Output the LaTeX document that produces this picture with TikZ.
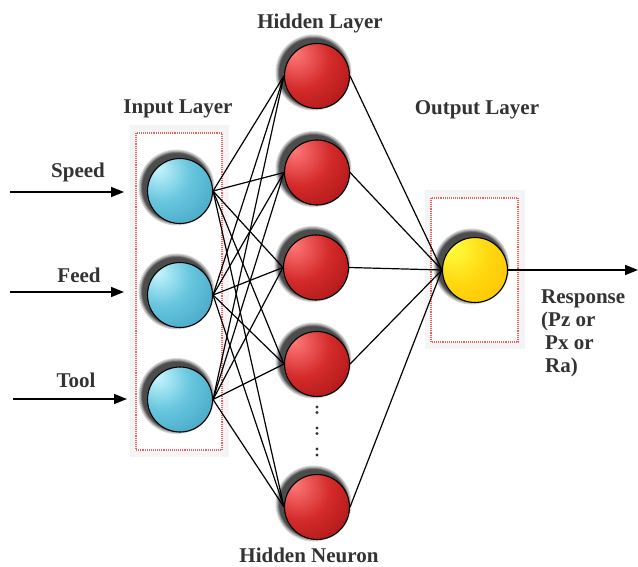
\documentclass[tikz,border=0pt]{standalone}
\usepackage{fontspec}
\setmainfont{Liberation Serif}
\usetikzlibrary{arrows.meta}

\definecolor{labelgray}{HTML}{333333}
\definecolor{cyanhi}{HTML}{C8F6FF}
\definecolor{cyanmid}{HTML}{68C6DE}
\definecolor{cyanlo}{HTML}{3C9EBE}
\definecolor{redhi}{HTML}{FF7A7A}
\definecolor{redmid}{HTML}{D42A2A}
\definecolor{redlo}{HTML}{A01212}
\definecolor{yelhi}{HTML}{FFFF40}
\definecolor{yelmid}{HTML}{FFD810}
\definecolor{yello}{HTML}{FFBE00}
\definecolor{boxred}{HTML}{F06060}

\pgfdeclareradialshading{cyanball}{\pgfpoint{-18bp}{18bp}}{%
  color(0bp)=(cyanhi); color(22bp)=(cyanmid); color(50bp)=(cyanlo); color(100bp)=(cyanlo)}
\pgfdeclareradialshading{redball}{\pgfpoint{-18bp}{18bp}}{%
  color(0bp)=(redhi); color(24bp)=(redmid); color(50bp)=(redlo); color(100bp)=(redlo)}
\pgfdeclareradialshading{yelball}{\pgfpoint{-18bp}{18bp}}{%
  color(0bp)=(yelhi); color(24bp)=(yelmid); color(50bp)=(yello); color(100bp)=(yello)}

\tikzset{
  neuron/.style={circle, draw=black, line width=1.1pt, minimum size=65pt, inner sep=0pt},
  inneuron/.style={neuron, shading=cyanball},
  hidneuron/.style={neuron, shading=redball},
  outneuron/.style={neuron, shading=yelball},
  lbl/.style={text=labelgray, font=\fontsize{21}{24}\selectfont\bfseries, inner sep=0pt},
  link/.style={line width=1.2pt, black},
  feedarrow/.style={line width=1.6pt, -{Triangle[length=13pt,width=10pt]}},
  layerframe/.style={draw=gray!9, line width=7pt},
  layerbox/.style={draw=boxred, densely dotted, line width=1.1pt},
  dot/.style={circle, fill=labelgray, inner sep=0pt, minimum size=3.4pt},
  softshade/.style={fill=black, fill opacity=0.16, draw=none}
}

\begin{document}
\begin{tikzpicture}[x=1pt, y=-1pt]
\useasboundingbox (0,0) rectangle (638,567);

% layer frames
\draw[layerframe] (133,129) rectangle (225,453);
\draw[layerbox] (136,133) rectangle (222,450);
\draw[layerframe] (428,194) rectangle (521,345);
\draw[layerbox] (431,198) rectangle (518,342);

% soft shadows cast up and to the left of every neuron
\foreach \cx/\cy in {180/191,180/295,180/399.5,317/76,317/172.5,316/267.5,317/364,317/507,475/270}
  \foreach \r in {38,37,36,35.5,35,34.5,34}
    \fill[softshade] (\cx-3.5,\cy-3.5) circle[radius=\r];

% input neurons
\node[inneuron] (i1) at (180,191) {};
\node[inneuron] (i2) at (180,295) {};
\node[inneuron] (i3) at (180,399.5) {};

% hidden neurons
\node[hidneuron] (h1) at (317,76) {};
\node[hidneuron] (h2) at (317,172.5) {};
\node[hidneuron] (h3) at (316,267.5) {};
\node[hidneuron] (h4) at (317,364) {};
\node[hidneuron] (h5) at (317,507) {};

% output neuron
\node[outneuron] (o1) at (475,270) {};

% connections
\foreach \i in {i1,i2,i3}
  \foreach \h in {h1,h2,h3,h4,h5}
    \draw[link] (\i.east) -- (\h.west);
\foreach \h in {h1,h2,h3,h4,h5}
  \draw[link] (\h.east) -- (o1.west);

% vertical ellipsis between hidden neurons
\foreach \y [count=\k] in {407,412.5,428,433.5,449,455}
  \node[dot] (d\k) at (317,\y) {};

% inputs and output
\coordinate (s0) at (10,192);
\coordinate (s1) at (124,192);
\coordinate (f0) at (10,292);
\coordinate (f1) at (124,292);
\coordinate (t0) at (13,399);
\coordinate (t1) at (127,399);
\coordinate (r1) at (638,270);
\draw[feedarrow] (s0) -- (s1);
\draw[feedarrow] (f0) -- (f1);
\draw[feedarrow] (t0) -- (t1);
\draw[feedarrow] (o1.east) -- (r1);

% labels
\node[lbl, anchor=base] (ls) at (78,178) {Speed};
\node[lbl, anchor=base] (lf) at (79,283) {Feed};
\node[lbl, anchor=base] (lt) at (76,387) {Tool};
\node[lbl, anchor=base] (lh) at (320,29) {Hidden Layer};
\node[lbl, anchor=base] (li) at (178,114) {Input Layer};
\node[lbl, anchor=base] (lo) at (477,115) {Output Layer};
\node[lbl, anchor=base] (ln) at (309,562) {Hidden Neuron};
\node[lbl, anchor=base west] (r1a) at (541,303) {Response};
\node[lbl, anchor=base west] (r1b) at (541,326) {(Pz or};
\node[lbl, anchor=base west] (r1c) at (545,349) {Px or};
\node[lbl, anchor=base west] (r1d) at (545,372) {Ra)};
\end{tikzpicture}
\end{document}
